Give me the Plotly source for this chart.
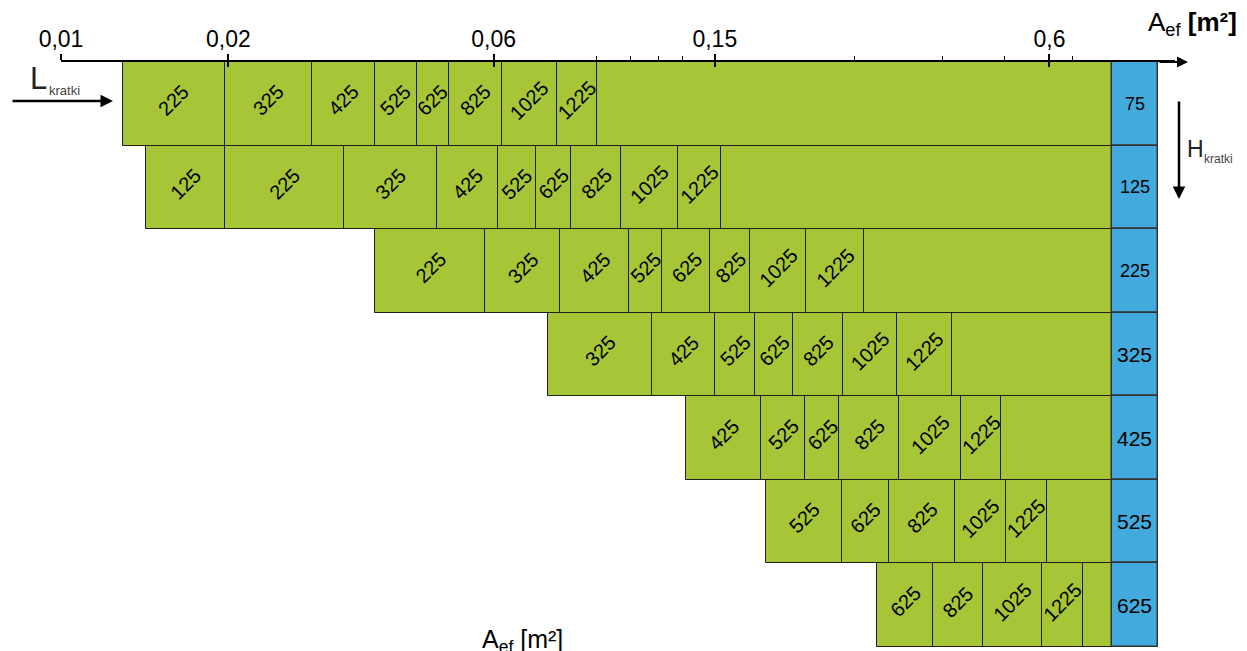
import numpy as np
import plotly.graph_objects as go

# ---------------- data ----------------
H_VALUES = ["75", "125", "225", "325", "425", "525", "625"]   # H_kratki rows [mm]

# L_kratki labels per row and cell boundaries on the A_ef axis [m²]
ROW1_L = ["225", "325", "425", "525", "625", "825", "1025", "1225"]
ROW1_EDGES = [0.01291, 0.01972, 0.02825, 0.03672, 0.04363, 0.04989, 0.06220, 0.07812, 0.09220]

ROW2_L = ["125", "225", "325", "425", "525", "625", "825", "1025", "1225"]
ROW2_EDGES = [0.01422, 0.01975, 0.03233, 0.04753, 0.06118, 0.07144, 0.08267, 0.1018, 0.1290, 0.1541]

ROW3_L = ["225", "325", "425", "525", "625", "825", "1025", "1225"]
ROW3_EDGES = [0.03667, 0.05799, 0.07910, 0.1053, 0.1205, 0.1472, 0.1735, 0.2191, 0.2786]

ROW4_L = ["325", "425", "525", "625", "825", "1025", "1225"]
ROW4_EDGES = [0.07526, 0.1158, 0.1503, 0.1774, 0.2077, 0.2554, 0.3195, 0.4008]

ROW5_L = ["425", "525", "625", "825", "1025", "1225"]
ROW5_EDGES = [0.1331, 0.1816, 0.2182, 0.2512, 0.3214, 0.4165, 0.4903]

ROW6_L = ["525", "625", "825", "1025", "1225"]
ROW6_EDGES = [0.1857, 0.2544, 0.3083, 0.4063, 0.5018, 0.5933]

ROW7_L = ["625", "825", "1025", "1225"]
ROW7_EDGES = [0.2941, 0.3699, 0.4561, 0.5811, 0.6902]

GREEN_END = 0.7772       # right end of the green area
H_COLUMN_END = 0.9406    # right end of the blue H column

TICK_VALUES = [0.01, 0.02, 0.06, 0.15, 0.6]
TICK_TEXT = ["0,01", "0,02", "0,06", "0,15", "0,6"]
MINOR_TICKS = [0.092, 0.106, 0.119, 0.131, 0.268, 0.386, 0.498, 0.66]

ROWS = [(ROW1_L, ROW1_EDGES), (ROW2_L, ROW2_EDGES), (ROW3_L, ROW3_EDGES),
        (ROW4_L, ROW4_EDGES), (ROW5_L, ROW5_EDGES), (ROW6_L, ROW6_EDGES),
        (ROW7_L, ROW7_EDGES)]

# ---------------- style ----------------
FONT = "Liberation Sans, Arial, sans-serif"
GREEN = "#A7C637"
BLUE = "#42AADC"
EDGE = "#1e1e1e"
W, HGT = 1247, 651
ML, MR, MT, MB = 61, 72, 62, 4
PW = W - ML - MR
PH = HGT - MT - MB
H_FONT_SIZES = [18, 18, 18, 21, 21, 21, 21]
X_RANGE = [-2, -2 + PW / 555.9]


def px_x(px):
    return (px - ML) / PW


def px_y(py):
    return (HGT - MB - py) / PH


fig = go.Figure()

for i, (labels, edges) in enumerate(ROWS):
    lefts = list(edges)
    rights = list(edges[1:]) + [GREEN_END]
    widths = [r - l for l, r in zip(lefts, rights)]
    fig.add_trace(go.Bar(
        orientation="h", y=[i] * len(lefts), x=widths, base=lefts, width=1,
        marker=dict(color=GREEN, line=dict(color=EDGE, width=1)),
        hoverinfo="skip", showlegend=False))
    for lab, l, r in zip(labels, edges[:-1], edges[1:]):
        fig.add_annotation(
            x=(np.log10(l) + np.log10(r)) / 2, y=i - 0.04, xref="x", yref="y",
            text=lab, textangle=-45, showarrow=False,
            font=dict(family=FONT, size=20, color="black"))

# blue H column
fig.add_trace(go.Bar(
    orientation="h", y=list(range(len(H_VALUES))),
    x=[H_COLUMN_END - GREEN_END] * len(H_VALUES),
    base=[GREEN_END] * len(H_VALUES), width=1,
    marker=dict(color=BLUE, line=dict(color="#333333", width=1.5)),
    hoverinfo="skip", showlegend=False))
for i, h in enumerate(H_VALUES):
    fig.add_annotation(
        x=(np.log10(GREEN_END) + np.log10(H_COLUMN_END)) / 2, y=i,
        xref="x", yref="y", text=h, showarrow=False,
        font=dict(family=FONT, size=H_FONT_SIZES[i], color="black"))

# invisible trace so the overlay axis (crossing major ticks) is drawn
fig.add_trace(go.Scatter(x=[0.1], y=[0], xaxis="x2", yaxis="y", mode="markers",
                         marker=dict(opacity=0), hoverinfo="skip", showlegend=False))

# axis arrow
fig.add_annotation(x=px_x(1188), y=1, xref="paper", yref="paper", ax=-30, ay=0,
                   text="", showarrow=True, arrowhead=2, arrowsize=1.1,
                   arrowwidth=2, arrowcolor="black")
# axis title top right
fig.add_annotation(x=px_x(1146), y=px_y(23), xref="paper", yref="paper",
                   xanchor="left", yanchor="middle", showarrow=False,
                   text="A<sub>ef</sub> <b>[m²]</b>",
                   font=dict(family=FONT, size=26, color="black"))
# bottom label (cut by the page edge, as in the reference)
fig.add_annotation(x=px_x(480), y=px_y(623), xref="paper", yref="paper",
                   xanchor="left", yanchor="top", showarrow=False,
                   text="A<sub>ef</sub> [m²]",
                   font=dict(family=FONT, size=25, color="black"))
# L kratki
fig.add_annotation(x=px_x(28), y=px_y(78), xref="paper", yref="paper",
                   xanchor="left", yanchor="middle", showarrow=False, text="L",
                   font=dict(family=FONT, size=31, color="#222222"))
fig.add_annotation(x=px_x(47), y=px_y(90), xref="paper", yref="paper",
                   xanchor="left", yanchor="middle", showarrow=False, text="kratki",
                   font=dict(family=FONT, size=13, color="#444444"))
fig.add_annotation(x=px_x(113), y=px_y(101), xref="paper", yref="paper",
                   ax=-102, ay=0, text="", showarrow=True, arrowhead=2,
                   arrowsize=1, arrowwidth=2.5, arrowcolor="black")
# H kratki
fig.add_annotation(x=px_x(1179), y=px_y(199), xref="paper", yref="paper",
                   ax=0, ay=-99, text="", showarrow=True, arrowhead=2,
                   arrowsize=1, arrowwidth=2.5, arrowcolor="black")
fig.add_annotation(x=px_x(1185), y=px_y(149), xref="paper", yref="paper",
                   xanchor="left", yanchor="middle", showarrow=False, text="H",
                   font=dict(family=FONT, size=23, color="#222222"))
fig.add_annotation(x=px_x(1202), y=px_y(159), xref="paper", yref="paper",
                   xanchor="left", yanchor="middle", showarrow=False, text="kratki",
                   font=dict(family=FONT, size=12, color="#444444"))

fig.update_layout(
    xaxis=dict(
        type="log", range=X_RANGE, side="top",
        showline=True, linecolor="black", linewidth=2,
        ticks="outside", ticklen=6, tickwidth=2, tickcolor="black",
        tickmode="array", tickvals=TICK_VALUES, ticktext=TICK_TEXT,
        tickfont=dict(family=FONT, size=23, color="black"),
        ticklabelstandoff=-2,
        showgrid=False, zeroline=False,
        minor=dict(tickmode="array", tickvals=MINOR_TICKS, ticks="outside",
                   ticklen=4, tickwidth=1, tickcolor="black", showgrid=False)),
    xaxis2=dict(
        type="log", range=X_RANGE, overlaying="x", side="top", anchor="y",
        showline=False, ticks="inside", ticklen=5, tickwidth=2, tickcolor="black",
        tickmode="array", tickvals=TICK_VALUES, showticklabels=False,
        showgrid=False, zeroline=False),
    yaxis=dict(visible=False, range=[len(H_VALUES) - 0.5, -0.5],
               showgrid=False, zeroline=False),
    width=W, height=HGT, margin=dict(l=ML, r=MR, t=MT, b=MB, pad=0),
    plot_bgcolor="white", paper_bgcolor="white",
    barmode="overlay", bargap=0, showlegend=False)

fig.write_html("out.html", config={"displayModeBar": False},
               post_script="document.body.style.margin='0';")
